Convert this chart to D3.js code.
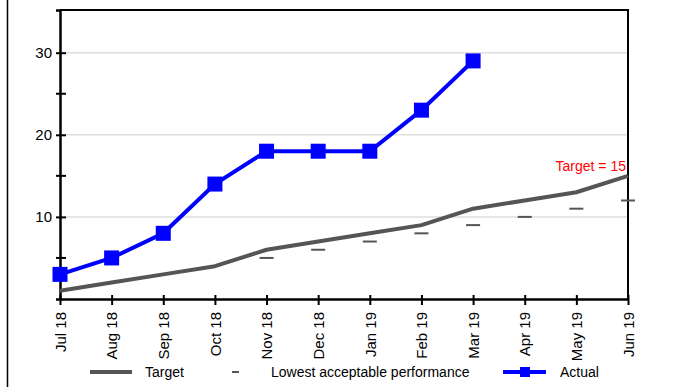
<!DOCTYPE html>
<html>
<head>
<meta charset="utf-8">
<script src="https://cdn.jsdelivr.net/npm/d3@7"></script>
<style>
  body { margin: 0; background: #fff; }
  svg { display: block; font-family: "Liberation Sans", Arial, sans-serif; }
</style>
</head>
<body>
<svg id="chart" width="684" height="387"></svg>
<script>
const months = ["Jul 18", "Aug 18", "Sep 18", "Oct 18", "Nov 18", "Dec 18",
                "Jan 19", "Feb 19", "Mar 19", "Apr 19", "May 19", "Jun 19"];
const target = [1, 2, 3, 4, 6, 7, 8, 9, 11, 12, 13, 15];
const lowest = [null, null, null, null, 5, 6, 7, 8, 9, 10, 11, 12];
const actual = [3, 5, 8, 14, 18, 18, 18, 23, 29, null, null, null];
const yTicks = [10, 20, 30];
const yMinor = [5, 15, 25];

const svg = d3.select("#chart");
const margin = { top: 10, right: 56, bottom: 88, left: 60 };
const W = 684, H = 387;
const innerW = W - margin.left - margin.right;
const innerH = H - margin.top - margin.bottom;

// page border on the left
svg.append("line")
    .attr("x1", 7.5).attr("x2", 7.5)
    .attr("y1", 0).attr("y2", H)
    .attr("stroke", "#000").attr("stroke-width", 1.5);

const g = svg.append("g").attr("transform", `translate(${margin.left},${margin.top})`);

const x = d3.scalePoint().domain(months).range([0, innerW]);
const y = d3.scaleLinear().domain([0, 35.2]).range([innerH, 0]);

// grid
g.selectAll("line.grid")
    .data(yTicks)
    .enter()
    .append("line")
    .attr("class", "grid")
    .attr("x1", 0).attr("x2", innerW)
    .attr("y1", (d) => y(d)).attr("y2", (d) => y(d))
    .attr("stroke", "#dedede").attr("stroke-width", 1.5);

// frame top/right
g.append("path")
    .attr("d", `M0,0H${innerW}V${innerH}`)
    .attr("fill", "none").attr("stroke", "#000").attr("stroke-width", 2);

// y axis
const yAxis = g.append("g")
    .call(d3.axisLeft(y).tickValues(yTicks).tickSize(4).tickPadding(4));
yAxis.select(".domain").attr("stroke-width", 2.5);
yAxis.selectAll(".tick line").attr("x2", 6).attr("x1", -4).attr("stroke-width", 2);
yAxis.selectAll(".tick text").attr("font-size", 15).attr("fill", "#000");
yAxis.append("g").selectAll("line")
    .data(yMinor)
    .enter()
    .append("line")
    .attr("x1", -4).attr("x2", 6)
    .attr("y1", (d) => y(d)).attr("y2", (d) => y(d))
    .attr("stroke", "#000").attr("stroke-width", 2);

// x axis
const xAxis = g.append("g")
    .attr("transform", `translate(0,${innerH})`)
    .call(d3.axisBottom(x).tickSize(6).tickSizeOuter(0));
xAxis.select(".domain").attr("stroke-width", 2.5);
xAxis.selectAll(".tick line").attr("y1", -4).attr("y2", 6).attr("stroke-width", 2);
xAxis.selectAll(".tick text")
    .attr("font-size", 15).attr("fill", "#000")
    .attr("transform", "rotate(-90)")
    .attr("text-anchor", "end")
    .attr("x", -13).attr("y", 0).attr("dy", "0.35em");

// target line
const line = d3.line()
    .defined((d) => d.v != null)
    .x((d) => x(d.m))
    .y((d) => y(d.v));

g.append("path")
    .datum(months.map((m, i) => ({ m, v: target[i] })))
    .attr("d", line)
    .attr("fill", "none").attr("stroke", "#555").attr("stroke-width", 4)
    .attr("stroke-linejoin", "round");

// lowest acceptable dashes
g.selectAll("line.low")
    .data(months.map((m, i) => ({ m, v: lowest[i] })).filter((d) => d.v != null))
    .enter()
    .append("line")
    .attr("class", "low")
    .attr("x1", (d) => x(d.m) - 7).attr("x2", (d) => x(d.m) + 7)
    .attr("y1", (d) => y(d.v)).attr("y2", (d) => y(d.v))
    .attr("stroke", "#555").attr("stroke-width", 2);

// actual
const actualData = months.map((m, i) => ({ m, v: actual[i] })).filter((d) => d.v != null);
g.append("path")
    .datum(actualData)
    .attr("d", line)
    .attr("fill", "none").attr("stroke", "#0000ff").attr("stroke-width", 4);
g.selectAll("rect.pt")
    .data(actualData)
    .enter()
    .append("rect")
    .attr("class", "pt")
    .attr("x", (d) => x(d.m) - 7.5).attr("y", (d) => y(d.v) - 7.5)
    .attr("width", 15).attr("height", 15)
    .attr("fill", "#0000ff");

// target label
g.append("text")
    .attr("x", innerW - 2).attr("y", y(target[target.length - 1]) - 5)
    .attr("text-anchor", "end")
    .attr("font-size", 14).attr("fill", "#ff0000")
    .text(`Target = ${target[target.length - 1]}`);

// legend
const leg = svg.append("g").attr("transform", "translate(0,372)");
leg.append("line").attr("x1", 90).attr("x2", 132).attr("y1", 0).attr("y2", 0)
    .attr("stroke", "#555").attr("stroke-width", 4);
leg.append("text").attr("x", 145).attr("y", 5).attr("font-size", 14).text("Target");
leg.append("line").attr("x1", 232).attr("x2", 239).attr("y1", 0).attr("y2", 0)
    .attr("stroke", "#555").attr("stroke-width", 2);
leg.append("text").attr("x", 271).attr("y", 5).attr("font-size", 14).text("Lowest acceptable performance");
leg.append("line").attr("x1", 503).attr("x2", 546).attr("y1", 0).attr("y2", 0)
    .attr("stroke", "#0000ff").attr("stroke-width", 4);
leg.append("rect").attr("x", 520).attr("y", -5).attr("width", 10).attr("height", 10)
    .attr("fill", "#0000ff");
leg.append("text").attr("x", 560).attr("y", 5).attr("font-size", 14).text("Actual");
</script>
</body>
</html>
